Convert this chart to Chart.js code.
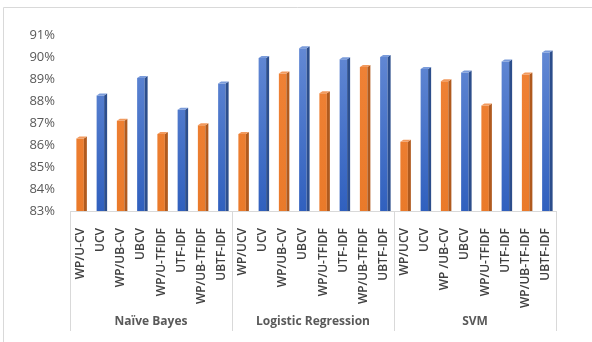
<!DOCTYPE html>
<html>
<head>
<meta charset="utf-8">
<script src="https://cdn.jsdelivr.net/npm/chart.js@4"></script>
<style>
  html, body { margin: 0; padding: 0; background: #fff; }
  #wrap { width: 592px; height: 342px; position: relative; }
</style>
</head>
<body>
<div id="wrap"><canvas id="graph"></canvas></div>
<script>
// data
var groups = ["Naïve Bayes", "Logistic Regression", "SVM"];
var xLabels = [
  "WP/U-CV", "UCV", "WP/UB-CV", "UBCV", "WP/U-TFIDF", "UTF-IDF", "WP/UB-TFIDF", "UBTF-IDF",
  "WP/UCV", "UCV", "WP/UB-CV", "UBCV", "WP/U-TFIDF", "UTF-IDF", "WP/UB-TFIDF", "UBTF-IDF",
  "WP/UCV", "UCV", "WP /UB-CV", "UBCV", "WP/U-TFIDF", "UTF-IDF", "WP/UB-TF-IDF", "UBTF-IDF"
];
var naiveBayes = [86.3, 88.25, 87.1, 89.05, 86.5, 87.6, 86.9, 88.8];
var logReg = [86.5, 89.95, 89.25, 90.4, 88.35, 89.9, 89.55, 90.0];
var svm = [86.15, 89.45, 88.9, 89.3, 87.8, 89.8, 89.2, 90.2];
var yTicks = [83, 84, 85, 86, 87, 88, 89, 90, 91];

var values = naiveBayes.concat(logReg, svm);
var perGroup = naiveBayes.length;

var ORANGE = '#ED7D31', ORANGE_SIDE = '#B05A1E', ORANGE_TOP = '#F29A5E';
var BLUE = '#4472C4', BLUE_SIDE = '#2C4E8C', BLUE_TOP = '#7A9BDA';

function isBlue(i) { return i % 2 === 1; }

function barFill(ctx) {
  var chart = ctx.chart;
  var area = chart.chartArea;
  if (!area) return isBlue(ctx.dataIndex) ? BLUE : ORANGE;
  var g = chart.ctx.createLinearGradient(0, area.top, 0, area.bottom);
  if (isBlue(ctx.dataIndex)) {
    g.addColorStop(0, '#678CD6');
    g.addColorStop(1, '#3060BE');
  } else {
    g.addColorStop(0, '#F08338');
    g.addColorStop(1, '#EA7A2A');
  }
  return g;
}

// fake 3D faces on each bar + frame + group labels
var decor = {
  id: 'decor',
  beforeDraw: function (chart) {
    var c = chart.ctx;
    c.save();
    c.strokeStyle = '#D9D9D9';
    c.lineWidth = 1;
    c.beginPath();
    c.moveTo(3.5, 342);
    c.lineTo(3.5, 7.5);
    c.lineTo(592, 7.5);
    c.stroke();
    c.restore();
  },
  afterDatasetsDraw: function (chart) {
    var c = chart.ctx;
    var meta = chart.getDatasetMeta(0);
    var bottom = chart.chartArea.bottom;
    var d = 3, h = 2;
    c.save();
    meta.data.forEach(function (bar, i) {
      var p = bar.getProps(['x', 'y', 'width'], true);
      var l = p.x - p.width / 2, r = p.x + p.width / 2;
      c.fillStyle = isBlue(i) ? BLUE_SIDE : ORANGE_SIDE;
      c.beginPath();
      c.moveTo(r, p.y);
      c.lineTo(r + d, p.y - h);
      c.lineTo(r + d, bottom);
      c.lineTo(r, bottom);
      c.closePath();
      c.fill();
      c.fillStyle = isBlue(i) ? BLUE_TOP : ORANGE_TOP;
      c.beginPath();
      c.moveTo(l, p.y);
      c.lineTo(l + d, p.y - h);
      c.lineTo(r + d, p.y - h);
      c.lineTo(r, p.y);
      c.closePath();
      c.fill();
    });
    c.restore();
  },
  afterDraw: function (chart) {
    var c = chart.ctx;
    var x = chart.scales.x;
    var bottom = chart.chartArea.bottom;
    var step = x.getPixelForValue(1) - x.getPixelForValue(0);
    c.save();
    c.strokeStyle = '#D9D9D9';
    c.lineWidth = 1;
    for (var g = 0; g <= groups.length; g++) {
      var idx = g * perGroup;
      var px = Math.round(x.getPixelForValue(0) - step / 2 + idx * step) + 0.5;
      c.beginPath();
      c.moveTo(px, bottom);
      c.lineTo(px, 331);
      c.stroke();
    }
    c.fillStyle = '#595959';
    c.font = 'bold 12px "Open Sans"';
    c.textAlign = 'center';
    c.textBaseline = 'middle';
    groups.forEach(function (name, g) {
      var a = x.getPixelForValue(g * perGroup) - step / 2;
      var b = x.getPixelForValue((g + 1) * perGroup - 1) + step / 2;
      c.fillText(name, (a + b) / 2, 322);
    });
    c.restore();
  }
};

new Chart(document.getElementById('graph'), {
  type: 'bar',
  data: {
    labels: xLabels,
    datasets: [{
      data: values,
      backgroundColor: barFill,
      borderWidth: 0,
      categoryPercentage: 1,
      barPercentage: 0.37
    }]
  },
  options: {
    responsive: true,
    maintainAspectRatio: false,
    animation: false,
    events: [],
    layout: { padding: { top: 35, right: 36, bottom: 11, left: 0 } },
    plugins: { legend: { display: false }, tooltip: { enabled: false } },
    scales: {
      x: {
        grid: { display: false },
        border: { display: true, color: '#D9D9D9' },
        ticks: {
          autoSkip: false,
          minRotation: 90,
          maxRotation: 90,
          padding: 9,
          color: '#404040',
          font: { family: '"Open Sans"', size: 12, weight: '600' }
        },
        afterFit: function (axis) { axis.height = 120; }
      },
      y: {
        min: yTicks[0],
        max: yTicks[yTicks.length - 1],
        grid: { display: false, drawTicks: false },
        border: { display: false },
        afterBuildTicks: function (axis) {
          axis.ticks = yTicks.map(function (v) { return { value: v }; });
        },
        ticks: {
          padding: 15,
          color: '#595959',
          font: { family: '"Open Sans"', size: 13 },
          callback: function (v) { return v + '%'; }
        },
        afterFit: function (axis) { axis.width = 70; }
      }
    }
  },
  plugins: [decor]
});
</script>
</body>
</html>
